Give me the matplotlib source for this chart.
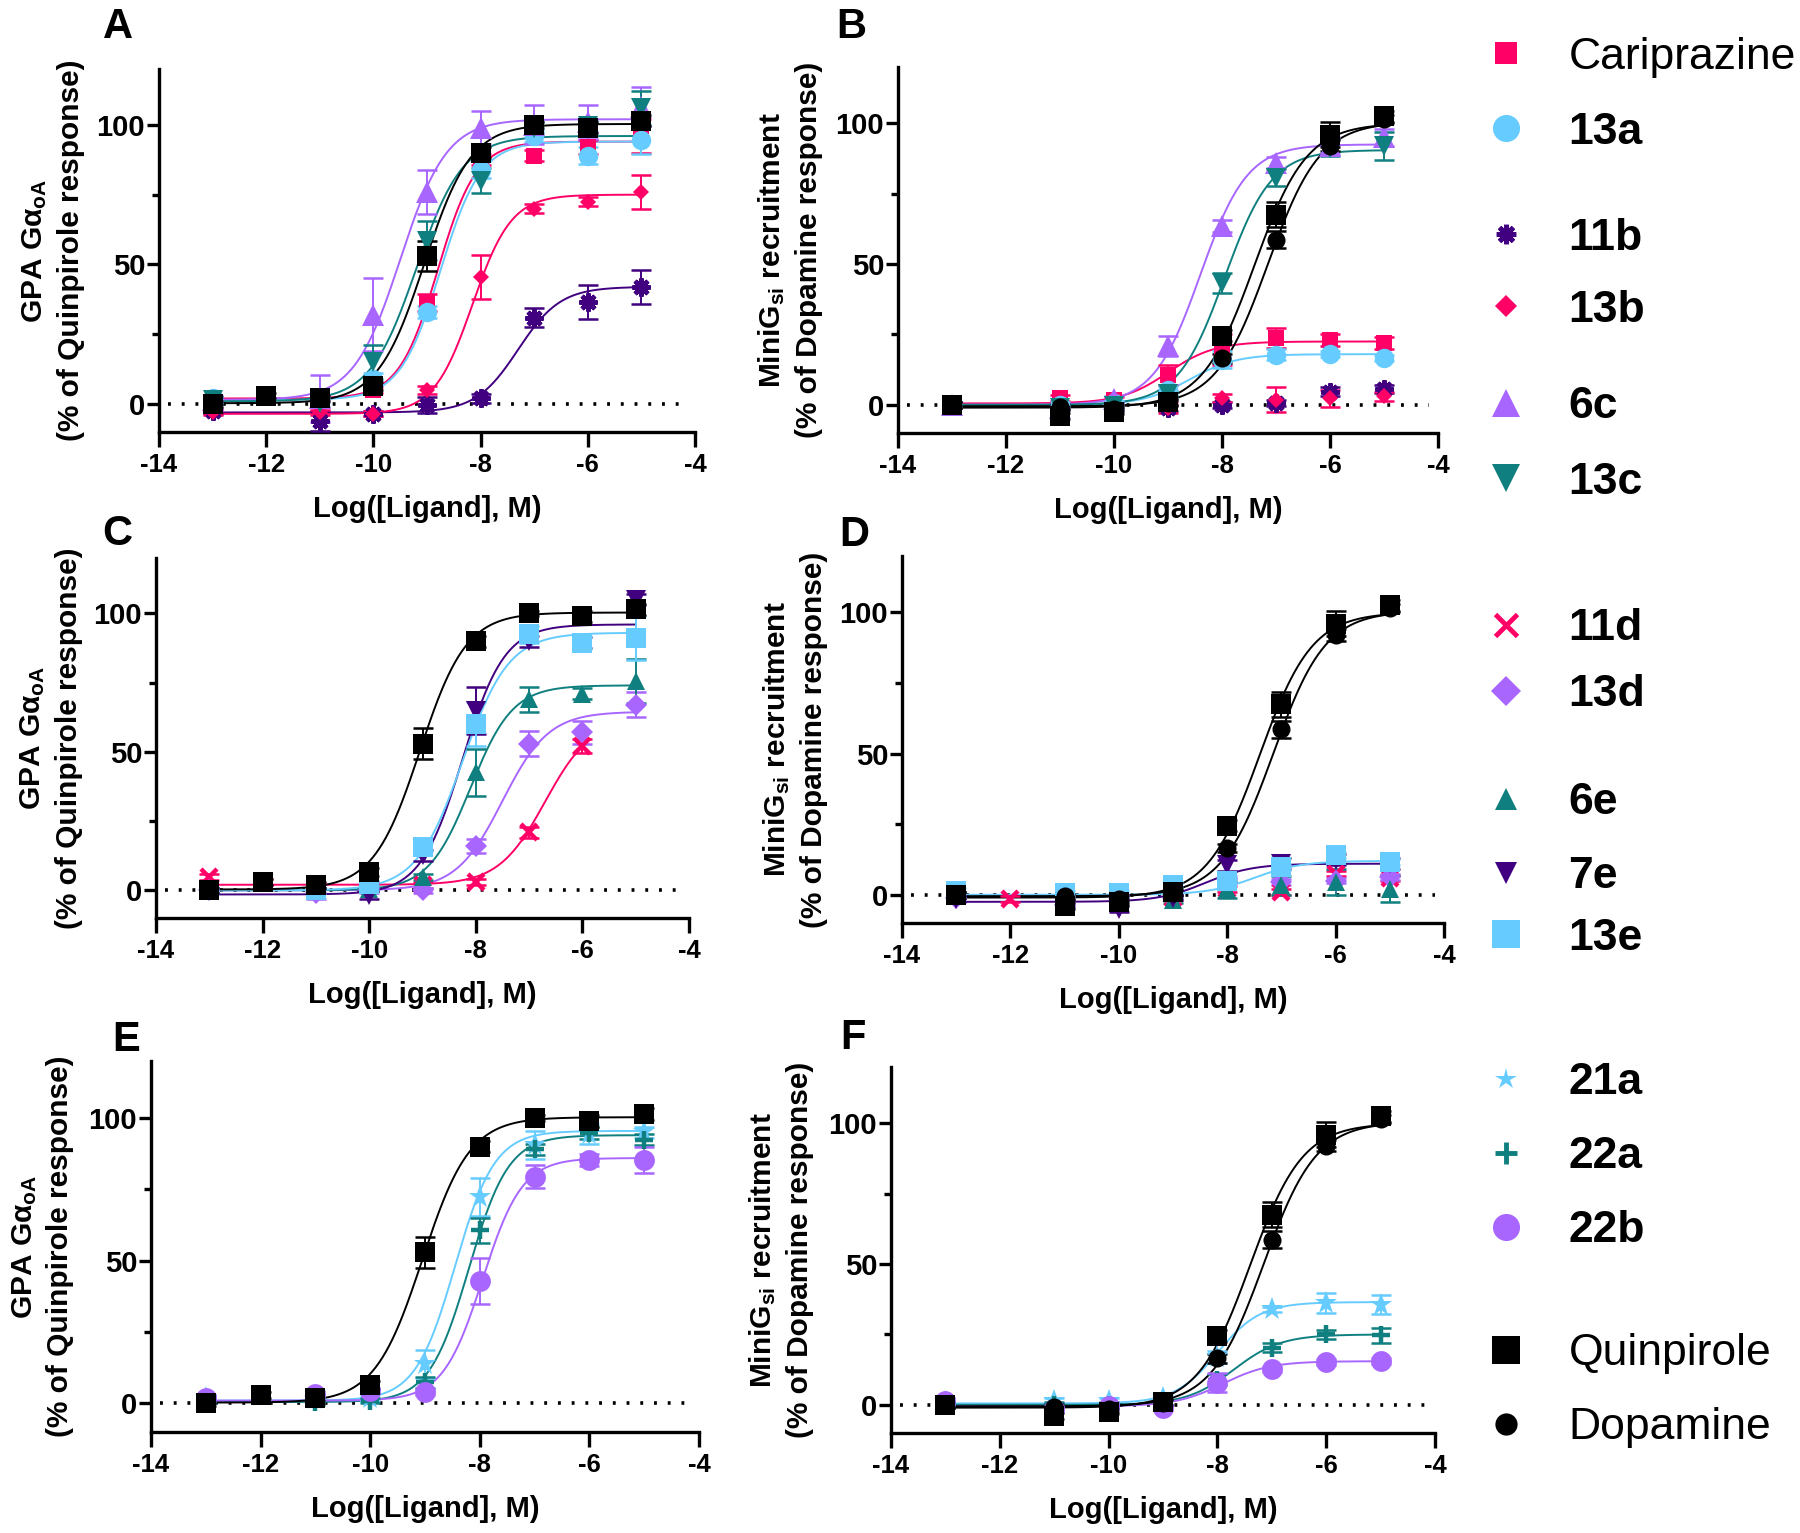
import numpy as np
import matplotlib
matplotlib.use('Agg')
import matplotlib.pyplot as plt
from matplotlib.lines import Line2D

plt.rcParams['font.family'] = ['Liberation Sans', 'DejaVu Sans']
plt.rcParams['font.weight'] = 'bold'
plt.rcParams['axes.unicode_minus'] = False
plt.rcParams['mathtext.fontset'] = 'custom'
plt.rcParams['mathtext.rm'] = 'Liberation Sans:bold'
plt.rcParams['mathtext.it'] = 'Liberation Sans:bold'
plt.rcParams['mathtext.bf'] = 'Liberation Sans:bold'

# ---------------- data (log molar concentration) ----------------
X_STD = [-13, -11, -10, -9, -8, -7, -6, -5]
X_QUIN_GPA = [-13, -12, -11, -10, -9, -8, -7, -6, -5]
X_11D_GPA = [-13, -12, -11, -10, -9, -8, -7, -6]
X_11D_MINI = [-13, -12, -11, -10, -9, -8, -7, -6, -5]

# fit parameters: [bottom, top, logEC50, hill]
# --- GPA GaoA reference (panels A, C, E)
quin_gpa_y = [0, 3, 2, 6.5, 53, 90, 100, 99, 101.5]
quin_gpa_err = [1, 1, 1, 1.5, 5.5, 2, 1, 2, 2]
quin_gpa_fit = [0.3, 100.3, -9.05, 1.0]
# --- MiniGsi references (panels B, D, F)
quin_mini_y = [0, -4, -2.4, 1, 24.5, 67.5, 96, 102.5]
quin_mini_err = [1, 1, 1, 1, 2, 4.5, 4.5, 2]
quin_mini_fit = [-1, 100, -7.4, 0.9]
dop_mini_y = [0, -0.6, -1.6, 0.6, 16.5, 58.7, 92, 101.5]
dop_mini_err = [1, 1, 1, 1, 1.5, 3, 2, 1.5]
dop_mini_fit = [-0.5, 100.5, -7.15, 0.9]

# --- Panel A
A_carip_y = [2, 2, 5, 36.5, 87.5, 89, 92, 96]
A_carip_err = [1, 1, 1, 3, 2, 2, 2.5, 6]
A_carip_fit = [2, 94, -8.8, 1.2]
A_13a_y = [2, 1.5, 9, 33, 84, 96, 89, 94.5]
A_13a_err = [1, 1, 2, 2, 3, 2, 3, 5]
A_13a_fit = [1.5, 94, -8.75, 1.15]
A_11b_y = [-2.5, -6, -3.4, -0.3, 2, 31, 36.5, 42]
A_11b_err = [1, 3.5, 1, 3, 1.5, 3.5, 6, 6]
A_11b_fit = [-3, 42, -7.3, 1.1]
A_13b_y = [-3, -3, -3.4, 5, 45.5, 70, 72.5, 76]
A_13b_err = [1, 1, 1, 1.5, 8, 1.5, 1.5, 6]
A_13b_fit = [-3.5, 75, -8.15, 1.2]
A_6c_y = [1.5, 2, 32, 76, 99, 100, 101, 106.5]
A_6c_err = [1, 8.5, 13, 8, 6, 7, 6, 7]
A_6c_fit = [1.5, 102, -9.5, 1.0]
A_13c_y = [1.5, 0.5, 15, 58.5, 80, 99, 99.5, 106]
A_13c_err = [1, 1.5, 6, 7, 4.5, 2, 2, 6]
A_13c_fit = [1, 96, -9.2, 1.0]

# --- Panel B
B_carip_y = [0, 2.4, 1.8, 10.7, 19.6, 23.7, 23, 22]
B_carip_err = [1, 1, 1, 3.5, 5.5, 3.5, 2, 2]
B_carip_fit = [0.5, 22.5, -9.0, 1.0]
B_13a_y = [0, 0, 0.5, 5.3, 16, 17.8, 18, 16.6]
B_13a_err = [1, 1, 1, 1.5, 3, 2, 1, 1]
B_13a_fit = [0, 18, -8.6, 1.0]
B_11b_y = [0, -1, -1, -1.2, 0, 0.6, 4.7, 5.6]
B_11b_err = [1, 1, 1, 1, 1, 1, 1.5, 1.5]
B_13b_y = [0, 0, 0, -1, 2.4, 1.8, 2.4, 3]
B_13b_err = [1, 1, 1, 2, 1.5, 4.5, 3, 1.5]
B_6c_y = [0, -1, 2, 20.8, 63.5, 86, 92, 95]
B_6c_err = [1, 1, 1, 3.5, 2, 2, 3, 3]
B_6c_fit = [0, 92.5, -8.4, 1.0]
B_13c_y = [0, -1, -0.5, 4, 43.3, 80.7, 91.3, 92]
B_13c_err = [1, 1, 1, 1, 3.5, 3, 3, 5]
B_13c_fit = [0, 90.5, -7.95, 1.0]

# --- Panel C
C_11d_y = [4.8, 3, 1.8, 2, 2, 3, 21, 52]
C_11d_err = [1, 1, 1, 1, 1, 1, 2, 2.5]
C_11d_fit = [2, 62, -6.7, 1.0]
C_13d_y = [0, -1, 0, 0, 16, 53, 57, 67]
C_13d_err = [1, 2, 1, 1, 2.5, 4.5, 4, 4.5]
C_13d_fit = [0, 64.5, -7.5, 1.0]
C_6e_y = [0, 0, 0.6, 4.8, 42.6, 69, 71, 75.6]
C_6e_err = [1, 1, 1, 1, 8.5, 4.5, 2, 8]
C_6e_fit = [0, 74, -8.1, 1.1]
C_7e_y = [0, 0, -1.8, 12.6, 64.8, 90, 89.4, 105]
C_7e_err = [1, 1, 1.5, 2, 8.5, 2, 2, 2]
C_7e_fit = [-1.5, 96, -8.25, 1.1]
C_13e_y = [0, 0, 2.4, 15.6, 60, 92.4, 89.4, 91]
C_13e_err = [1, 1, 1, 1.5, 8, 3, 2, 8]
C_13e_fit = [0, 93, -8.25, 1.0]

# --- Panel D
D_11d_y = [0, -1.4, -1, -1, -1, 2, 1, 7.5, 6]
D_11d_err = [1, 1, 1, 1, 1, 1, 1, 1, 1]
D_13d_y = [-1, -3.8, -1, -1, 5.7, 4.5, 5, 6.3]
D_13d_err = [1, 1, 1, 1, 1, 1, 1, 1]
D_6e_y = [0, -1, -3, -2, 2, 3.3, 4.5, 2]
D_6e_err = [1, 1, 1, 1, 3, 3.5, 4.5, 4.5]
D_7e_y = [-1.4, -3, -5, -1, 10.4, 11, 12.4, 11.2]
D_7e_err = [1, 1, 1, 1, 2, 2, 2, 2]
D_7e_fit = [-2.5, 11, -8.4, 1.0]
D_13e_y = [1.5, 0.5, 0.5, 3.3, 5, 9.8, 14, 11.6]
D_13e_err = [1, 1, 1, 1, 1, 1, 1, 1]
D_13e_fit = [0, 12, -7.5, 1.0]

# --- Panel E
E_21a_y = [2, 1.5, 2, 13.8, 72.4, 90.6, 94.5, 95]
E_21a_err = [1, 1, 1, 5, 6.7, 5, 3.5, 2]
E_21a_fit = [1, 95.5, -8.45, 1.2]
E_22a_y = [1, 0.5, 1, 7.4, 60.7, 89, 94.7, 92.4]
E_22a_err = [1, 1, 1, 2, 4.4, 2, 2, 2]
E_22a_fit = [0.5, 94, -8.2, 1.2]
E_22b_y = [2, 3.3, 4.5, 3.9, 43, 79.5, 85.3, 85.3]
E_22b_err = [1, 1, 1, 1, 8, 4, 2, 4.4]
E_22b_fit = [1, 86, -7.95, 1.2]

# --- Panel F
F_21a_y = [1, 1.4, 1.4, 2.6, 17, 33.9, 36.2, 35.6]
F_21a_err = [1, 1, 1, 1, 2, 1, 3.5, 3.4]
F_21a_fit = [0.5, 36.5, -8.0, 1.1]
F_22a_y = [0, 0, 0, 1, 9, 20.3, 25, 24.7]
F_22a_err = [1, 1, 1, 1, 2, 1.5, 1.5, 2.6]
F_22a_fit = [0, 25, -7.7, 1.0]
F_22b_y = [1.4, -1.5, -0.5, -1, 7.9, 12.6, 15.2, 15.6]
F_22b_err = [1, 1, 1, 1, 3.5, 1, 1, 1]
F_22b_fit = [-0.5, 15.5, -7.9, 1.0]

LEGEND_ORDER = ['Cariprazine', '13a', '11b', '13b', '6c', '13c', '11d', '13d',
                '6e', '7e', '13e', '21a', '22a', '22b', 'Quinpirole', 'Dopamine']
LEGEND_BOLD = [False] + [True] * 13 + [False, False]

# ---------------- styles ----------------
PINK = '#FF0066'; SKY = '#66CCFF'; INDIGO = '#40007F'
VIOLET = '#A866FF'; TEAL = '#107F7F'; BLACK = '#000000'
AST = (8, 2, 0)
# name: (marker, plot size, legend size, color)
STYLE = {
    'Quinpirole': ('s', 14, 20, BLACK),
    'Dopamine': ('o', 13, 16, BLACK),
    'Cariprazine': ('s', 12, 16.5, PINK),
    '13a': ('o', 14, 19.5, SKY),
    '11b': (AST, 13, 14, INDIGO),
    '13b': ('D', 8.5, 11.2, PINK),
    '6c': ('^', 16, 20, VIOLET),
    '13c': ('v', 15, 20, TEAL),
    '11d': ('x', 12, 16, PINK),
    '13d': ('D', 11, 14.8, VIOLET),
    '6e': ('^', 13, 16, TEAL),
    '7e': ('v', 14, 16, INDIGO),
    '13e': ('s', 15, 20, SKY),
    '21a': ('*', 17, 16, SKY),
    '22a': ('+', 13, 16, TEAL),
    '22b': ('o', 15, 19.5, VIOLET),
}


def is_line_marker(m):
    return m in ('x', '+') or isinstance(m, tuple)


PANELS = {
    'A': [('Cariprazine', X_STD, A_carip_y, A_carip_err, A_carip_fit),
          ('13a', X_STD, A_13a_y, A_13a_err, A_13a_fit),
          ('11b', X_STD, A_11b_y, A_11b_err, A_11b_fit),
          ('13b', X_STD, A_13b_y, A_13b_err, A_13b_fit),
          ('6c', X_STD, A_6c_y, A_6c_err, A_6c_fit),
          ('13c', X_STD, A_13c_y, A_13c_err, A_13c_fit),
          ('Quinpirole', X_QUIN_GPA, quin_gpa_y, quin_gpa_err, quin_gpa_fit)],
    'B': [('11b', X_STD, B_11b_y, B_11b_err, None),
          ('13b', X_STD, B_13b_y, B_13b_err, None),
          ('Cariprazine', X_STD, B_carip_y, B_carip_err, B_carip_fit),
          ('13a', X_STD, B_13a_y, B_13a_err, B_13a_fit),
          ('6c', X_STD, B_6c_y, B_6c_err, B_6c_fit),
          ('13c', X_STD, B_13c_y, B_13c_err, B_13c_fit),
          ('Quinpirole', X_STD, quin_mini_y, quin_mini_err, quin_mini_fit),
          ('Dopamine', X_STD, dop_mini_y, dop_mini_err, dop_mini_fit)],
    'C': [('11d', X_11D_GPA, C_11d_y, C_11d_err, C_11d_fit),
          ('13d', X_STD, C_13d_y, C_13d_err, C_13d_fit),
          ('6e', X_STD, C_6e_y, C_6e_err, C_6e_fit),
          ('7e', X_STD, C_7e_y, C_7e_err, C_7e_fit),
          ('13e', X_STD, C_13e_y, C_13e_err, C_13e_fit),
          ('Quinpirole', X_QUIN_GPA, quin_gpa_y, quin_gpa_err, quin_gpa_fit)],
    'D': [('11d', X_11D_MINI, D_11d_y, D_11d_err, None),
          ('13d', X_STD, D_13d_y, D_13d_err, None),
          ('6e', X_STD, D_6e_y, D_6e_err, None),
          ('7e', X_STD, D_7e_y, D_7e_err, D_7e_fit),
          ('13e', X_STD, D_13e_y, D_13e_err, D_13e_fit),
          ('Quinpirole', X_STD, quin_mini_y, quin_mini_err, quin_mini_fit),
          ('Dopamine', X_STD, dop_mini_y, dop_mini_err, dop_mini_fit)],
    'E': [('21a', X_STD, E_21a_y, E_21a_err, E_21a_fit),
          ('22a', X_STD, E_22a_y, E_22a_err, E_22a_fit),
          ('22b', X_STD, E_22b_y, E_22b_err, E_22b_fit),
          ('Quinpirole', X_QUIN_GPA, quin_gpa_y, quin_gpa_err, quin_gpa_fit)],
    'F': [('21a', X_STD, F_21a_y, F_21a_err, F_21a_fit),
          ('22a', X_STD, F_22a_y, F_22a_err, F_22a_fit),
          ('22b', X_STD, F_22b_y, F_22b_err, F_22b_fit),
          ('Quinpirole', X_STD, quin_mini_y, quin_mini_err, quin_mini_fit),
          ('Dopamine', X_STD, dop_mini_y, dop_mini_err, dop_mini_fit)],
}

YLAB_GPA = 'GPA G\u03b1$_{oA}$\n(% of Quinpirole response)'
YLAB_MINI = 'MiniG$_{si}$ recruitment\n(% of Dopamine response)'

# layout in pixels (left, top, right, bottom) on a 1800x1533 canvas
W, H = 1800, 1533
BOXES = {
    'A': (159, 69, 695, 432), 'B': (898, 67, 1438, 433),
    'C': (156, 558, 689, 918), 'D': (902, 556, 1444, 923),
    'E': (151, 1061, 699, 1432), 'F': (891, 1067, 1435, 1433),
}
YLAB_X = {'A': -0.138, 'B': -0.139, 'C': -0.137, 'D': -0.137, 'E': -0.14, 'F': -0.142}
LETTER_POS = {'A': (118, 27), 'B': (851, 27), 'C': (117, 534),
              'D': (854, 535), 'E': (126, 1040), 'F': (853, 1038)}
LEG_Y = [57, 132, 238, 310, 407, 482, 629, 695, 803, 877, 938,
         1083, 1157, 1231, 1354, 1428]

fig = plt.figure(figsize=(18, 15.33), dpi=100)

for key, series in PANELS.items():
    l, t, r, b = BOXES[key]
    ax = fig.add_axes([l / W, 1 - b / H, (r - l) / W, (b - t) / H])
    ax.set_xlim(-14, -4)
    ax.set_ylim(-10, 120)
    ax.hlines(0, -13.83, -4.17, colors='black', linestyles=(0, (0.8, 3.0)), lw=2.6, zorder=1)
    for name, x, y, e, fit in series:
        m, ms, _, c = STYLE[name]
        if fit is not None:
            bot, top, ec, hill = fit
            xx = np.linspace(min(x), max(x), 400)
            ax.plot(xx, bot + (top - bot) / (1 + 10 ** ((ec - xx) * hill)),
                    color=c, lw=1.4, zorder=2)
        ax.errorbar(x, y, yerr=e, fmt='none', ecolor=c, elinewidth=1.4,
                    capsize=7, capthick=1.8, zorder=3)
        lm = is_line_marker(m)
        ax.plot(x, y, ls='none', marker=m, ms=ms, color=c, mec=c,
                mew=3.2 if lm else 0, zorder=4)
    for s in ('top', 'right'):
        ax.spines[s].set_visible(False)
    for s in ('left', 'bottom'):
        ax.spines[s].set_linewidth(2.4)
    ax.set_xticks(range(-14, -3, 2))
    ax.set_yticks([0, 50, 100])
    ax.set_yticks([25, 75], minor=True)
    ax.tick_params(axis='x', length=11, width=2.4, pad=4, labelsize=18.5)
    ax.tick_params(axis='y', which='major', length=9, width=2.4, pad=1,
                   labelsize=21)
    ax.tick_params(axis='y', which='minor', length=5, width=2.4)
    ax.set_xlabel('Log([Ligand], M)', fontsize=21, fontweight='bold', va='top')
    ax.xaxis.set_label_coords(0.5, -63 / (b - t))
    ylab = YLAB_GPA if key in ('A', 'C', 'E') else YLAB_MINI
    ax.set_ylabel(ylab, fontsize=21.5, fontweight='bold', linespacing=1.35)
    ax.yaxis.set_label_coords(YLAB_X[key], 0.5)
    lx, ly = LETTER_POS[key]
    fig.text(lx / W, 1 - ly / H, key, fontsize=30, fontweight='bold',
             ha='center', va='center')

# legend: one entry per legend box, stacked in the right column
for name, bold, ypix in zip(LEGEND_ORDER, LEGEND_BOLD, LEG_Y):
    m, _, lms, c = STYLE[name]
    lm = is_line_marker(m)
    h = Line2D([], [], ls='none', marker=m, ms=lms, color=c, mec=c,
               mew=3.5 if lm else 0)
    fig.legend(handles=[h], labels=[name], loc='center left',
               bbox_to_anchor=(1484 / W, 1 - ypix / H), frameon=False,
               borderpad=0, borderaxespad=0, handlelength=1.0,
               handletextpad=0.9,
               prop=dict(family='Liberation Sans',
                         weight='bold' if bold else 'normal', size=32))

fig.savefig('out.png', dpi=100)
